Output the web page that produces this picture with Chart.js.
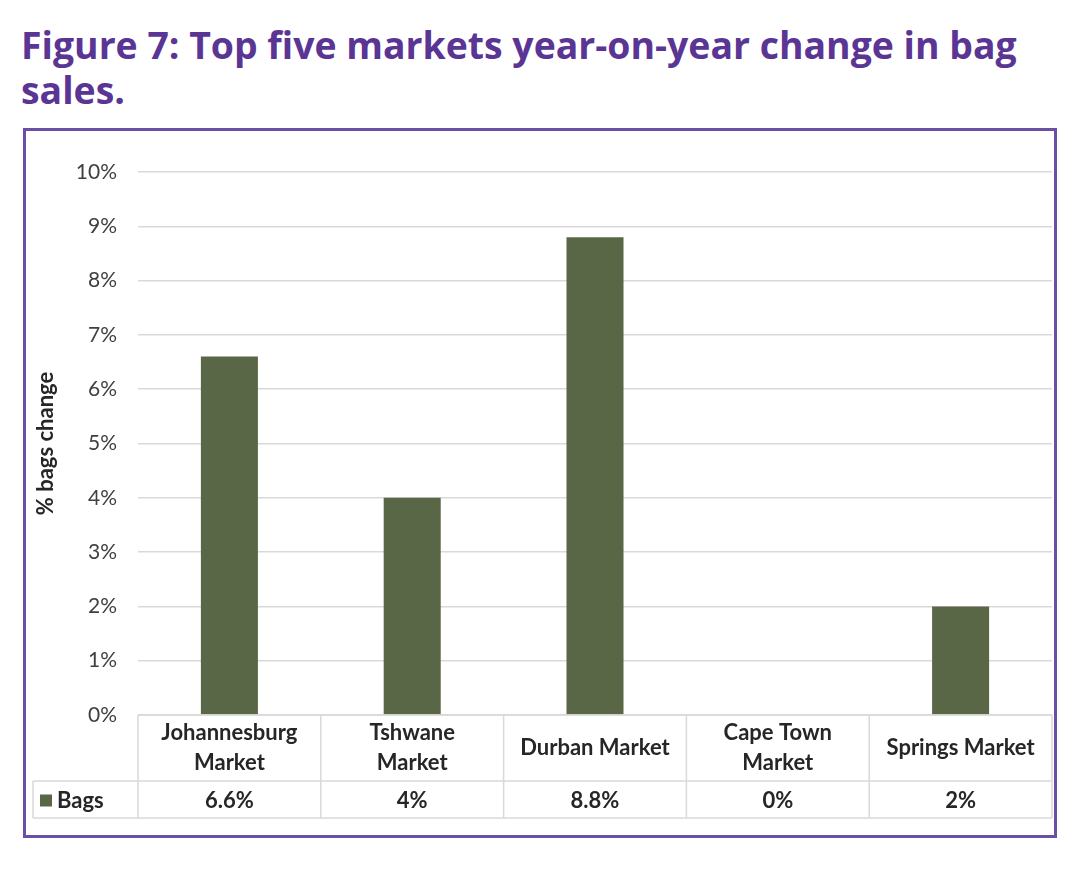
<!DOCTYPE html>
<html>
<head>
<meta charset="utf-8">
<script src="https://cdn.jsdelivr.net/npm/chart.js@4.4.1/dist/chart.umd.min.js"></script>
<style>
  html, body { margin: 0; padding: 0; background: #ffffff; }
  body { width: 1090px; height: 877px; position: relative; overflow: hidden; }
  #title {
    position: absolute; left: 21px; top: 22px; width: 1060px;
    font-family: "Open Sans", Lato, sans-serif; font-weight: 700;
    font-size: 37.4px; line-height: 45px; color: #5b3594; white-space: nowrap;
  }
  #box {
    position: absolute; left: 23px; top: 128px; width: 1028px; height: 704px;
    border: 3px solid #6a4fa6;
  }
  #wrap { position: absolute; left: 0; top: 0; width: 1028px; height: 704px; }
</style>
</head>
<body>
<div id="title">Figure 7: Top five markets year-on-year change in bag<br>sales.</div>
<div id="box"><div id="wrap"><canvas id="c"></canvas></div></div>
<script>
const categories = [
  ["Johannesburg", "Market"],
  ["Tshwane", "Market"],
  ["Durban Market"],
  ["Cape Town", "Market"],
  ["Springs Market"]
];
const seriesName = "Bags";
const bagsChange = [6.6, 4, 8.8, 0, 2];
const tableLabels = ["6.6%", "4%", "8.8%", "0%", "2%"];
const yTicks = [0, 1, 2, 3, 4, 5, 6, 7, 8, 9, 10];

const BAR = "#596747";
const GRID = "#d9d9d9";
const TEXT = "#262626";
const FONT = "Lato, 'Open Sans', sans-serif";

const dataTable = {
  id: "dataTable",
  afterDraw(chart) {
    const ctx = chart.ctx;
    const x = chart.scales.x;
    const area = chart.chartArea;
    const n = categories.length;
    const cw = (area.right - area.left) / n;
    const headTop = area.bottom;
    const rowTop = headTop + 66;
    const rowBot = rowTop + 37;
    const leftCell = 7;
    ctx.save();
    ctx.strokeStyle = GRID;
    ctx.lineWidth = 1.5;
    ctx.beginPath();
    ctx.moveTo(area.left, headTop); ctx.lineTo(area.right, headTop);
    ctx.moveTo(leftCell, rowTop); ctx.lineTo(area.right, rowTop);
    ctx.moveTo(leftCell, rowBot); ctx.lineTo(area.right, rowBot);
    ctx.moveTo(leftCell, rowTop); ctx.lineTo(leftCell, rowBot);
    for (let i = 0; i < n; i++) {
      const bx = x.getPixelForValue(i) - cw / 2;
      ctx.moveTo(bx, headTop); ctx.lineTo(bx, rowBot);
    }
    const ex = x.getPixelForValue(n - 1) + cw / 2;
    ctx.moveTo(ex, headTop); ctx.lineTo(ex, rowBot);
    ctx.stroke();

    const cy = (rowTop + rowBot) / 2 + 1;
    ctx.fillStyle = TEXT;
    ctx.font = "bold 22px " + FONT;
    ctx.textAlign = "center";
    ctx.textBaseline = "middle";
    for (let i = 0; i < n; i++) {
      ctx.fillText(tableLabels[i], x.getPixelForValue(i), cy);
    }
    ctx.fillStyle = BAR;
    ctx.fillRect(14, cy - 6, 12, 12);
    ctx.fillStyle = TEXT;
    ctx.textAlign = "left";
    ctx.fillText(seriesName, 31, cy);
    ctx.restore();
  }
};

new Chart(document.getElementById("c"), {
  type: "bar",
  data: {
    labels: categories,
    datasets: [{
      label: seriesName,
      data: bagsChange,
      backgroundColor: BAR,
      borderWidth: 0,
      categoryPercentage: 1,
      barPercentage: 0.312
    }]
  },
  options: {
    responsive: true,
    maintainAspectRatio: false,
    animation: false,
    layout: { padding: { left: 0, right: 2, top: 41, bottom: 0 } },
    plugins: {
      legend: { display: false },
      tooltip: { enabled: false }
    },
    scales: {
      x: {
        grid: { display: false, drawTicks: false },
        border: { display: false },
        ticks: {
          autoSkip: false, maxRotation: 0, minRotation: 0,
          crossAlign: "center",
          padding: 18,
          color: TEXT,
          font: { family: FONT, size: 22, weight: "bold", lineHeight: 1.36 }
        },
        afterFit(s) { s.height = 120; }
      },
      y: {
        min: 0, max: 10,
        afterBuildTicks(s) { s.ticks = yTicks.map(v => ({ value: v })); },
        grid: { color: GRID, lineWidth: 1.5, drawTicks: false },
        border: { display: false },
        ticks: {
          padding: 21,
          color: "#404040",
          font: { family: FONT, size: 21 },
          callback: v => v + "%"
        },
        title: {
          display: true,
          text: "% bags change",
          color: TEXT,
          padding: { top: 7, bottom: 0 },
          font: { family: FONT, size: 22, weight: "bold" }
        },
        afterFit(s) { s.width = 112; }
      }
    }
  },
  plugins: [dataTable]
});
</script>
</body>
</html>
